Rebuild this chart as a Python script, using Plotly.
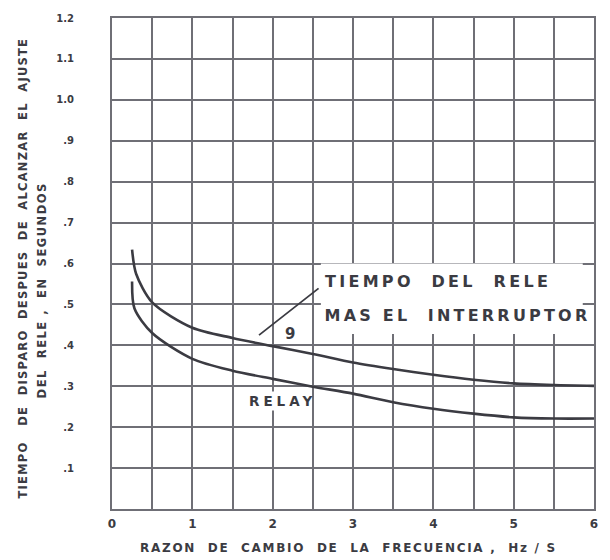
import plotly.graph_objects as go

# --- data ---
x_total = [0.25, 0.30, 0.5, 1.0, 1.5, 2.0, 2.5, 3.0, 3.5, 4.0, 4.5, 5.0, 5.5, 6.0]
y_total = [0.634, 0.575, 0.505, 0.443, 0.418, 0.398, 0.379, 0.358, 0.342, 0.328, 0.316, 0.307, 0.303, 0.301]

x_relay = [0.25, 0.28, 0.5, 1.0, 1.5, 2.0, 2.5, 3.0, 3.5, 4.0, 4.5, 5.0, 5.5, 6.0]
y_relay = [0.556, 0.49, 0.430, 0.367, 0.338, 0.318, 0.299, 0.282, 0.261, 0.245, 0.233, 0.224, 0.221, 0.221]

x_tickvals = [0, 1, 2, 3, 4, 5, 6]
x_ticktext = ["0", "1", "2", "3", "4", "5", "6"]
y_tickvals = [0.1, 0.2, 0.3, 0.4, 0.5, 0.6, 0.7, 0.8, 0.9, 1.0, 1.1, 1.2]
y_ticktext = [".1", ".2", ".3", ".4", ".5", ".6", ".7", ".8", ".9", "1.0", "1.1", "1.2"]

label_total_1 = "TIEMPO\u00a0\u00a0DEL\u00a0\u00a0RELE"
label_total_2 = "MAS\u00a0EL\u00a0\u00a0INTERRUPTOR"
label_relay = "RELAY"
label_nine = "9"
x_title = "RAZON\u00a0\u00a0DE\u00a0\u00a0CAMBIO\u00a0\u00a0DE\u00a0\u00a0LA\u00a0\u00a0FRECUENCIA\u00a0,\u00a0\u00a0Hz\u00a0/\u00a0S"
y_title_1 = "TIEMPO\u00a0\u00a0\u00a0DE\u00a0\u00a0DISPARO\u00a0\u00a0DESPUES\u00a0\u00a0DE\u00a0\u00a0ALCANZAR\u00a0\u00a0EL\u00a0\u00a0AJUSTE"
y_title_2 = "DEL\u00a0\u00a0RELE\u00a0,\u00a0\u00a0EN\u00a0\u00a0SEGUNDOS"

INK = "#3b3b42"
GRID = "#6f6f76"
FONT = "DejaVu Sans"

fig = go.Figure()
fig.add_trace(go.Scatter(x=x_total, y=y_total, mode="lines",
                         line=dict(color=INK, width=2.6, shape="spline", smoothing=0.8),
                         hoverinfo="skip", showlegend=False))
fig.add_trace(go.Scatter(x=x_relay, y=y_relay, mode="lines",
                         line=dict(color=INK, width=2.6, shape="spline", smoothing=0.8),
                         hoverinfo="skip", showlegend=False))

# white box behind the label text
fig.add_shape(type="rect", xref="x", yref="y", x0=2.6, x1=5.86, y0=0.428, y1=0.600,
              fillcolor="white", line=dict(width=0), layer="between")

# letter spacing (px) for each annotation, applied after rendering
spacing = {}

annotations = []


def add_ann(sp, **kw):
    spacing[len(annotations)] = sp
    annotations.append(kw)


add_ann(3.3, x=4.06, y=0.555, xref="x", yref="y", text=label_total_1, showarrow=False,
        xanchor="center", yanchor="middle", font=dict(family=FONT, size=16, color=INK, weight="bold"))
add_ann(3.2, x=4.30, y=0.474, xref="x", yref="y", text=label_total_2, showarrow=False,
        xanchor="center", yanchor="middle", font=dict(family=FONT, size=16, color=INK, weight="bold"))
add_ann(0, x=1.83, y=0.425, xref="x", yref="y", ax=2.59, ay=0.542, axref="x", ayref="y",
        text="", showarrow=True, arrowhead=0, arrowwidth=1.8, arrowcolor=INK, standoff=0, startstandoff=0)
add_ann(0, x=2.22, y=0.427, xref="x", yref="y", text=label_nine, showarrow=False,
        font=dict(family=FONT, size=15, color=INK, weight="bold"))
add_ann(4, x=1.81, y=0.265, xref="x", yref="y", text=label_relay, showarrow=False,
        xanchor="left", bgcolor="white", borderpad=1,
        font=dict(family=FONT, size=13.5, color=INK, weight="bold"))
add_ann(1.7, x=0.49, y=-0.079, xref="paper", yref="paper", text=x_title, showarrow=False,
        xanchor="center", yanchor="middle", font=dict(family=FONT, size=12, color=INK, weight="bold"))
add_ann(1.25, x=-0.183, y=0.49, xref="paper", yref="paper", text=y_title_1, showarrow=False, textangle=-90,
        xanchor="center", yanchor="middle", font=dict(family=FONT, size=11.5, color=INK, weight="bold"))
add_ann(1.5, x=-0.147, y=0.445, xref="paper", yref="paper", text=y_title_2, showarrow=False, textangle=-90,
        xanchor="center", yanchor="middle", font=dict(family=FONT, size=11.5, color=INK, weight="bold"))

fig.update_layout(
    width=610, height=560,
    margin=dict(l=112, r=12, t=15, b=51),
    paper_bgcolor="white", plot_bgcolor="white",
    annotations=annotations,
    xaxis=dict(range=[0, 6], tickvals=x_tickvals, ticktext=x_ticktext,
               showgrid=True, gridcolor=GRID, gridwidth=2,
               minor=dict(dtick=0.5, showgrid=True, gridcolor=GRID, gridwidth=2),
               showline=True, mirror=True, linecolor=GRID, linewidth=2,
               zeroline=False, ticks="", ticklabelstandoff=3,
               tickfont=dict(family=FONT, size=12, color=INK, weight="bold")),
    yaxis=dict(range=[0, 1.2], tickvals=y_tickvals, ticktext=y_ticktext,
               showgrid=True, gridcolor=GRID, gridwidth=2,
               showline=True, mirror=True, linecolor=GRID, linewidth=2,
               zeroline=False, ticks="", ticklabelstandoff=34,
               tickfont=dict(family=FONT, size=10, color=INK, weight="bold")),
)

sp_js = "{" + ",".join(f'"{k}":{v}' for k, v in spacing.items() if v) + "}"
post = """
var sp = %s;
var gd = document.getElementById('{plot_id}');
gd.querySelectorAll('g.annotation').forEach(function(g){
  var i = g.getAttribute('data-index');
  if (sp[i] !== undefined) {
    g.querySelectorAll('text').forEach(function(t){ t.style.letterSpacing = sp[i] + 'px'; });
  }
});
""" % sp_js

fig.write_html("out.html", post_script=post)
